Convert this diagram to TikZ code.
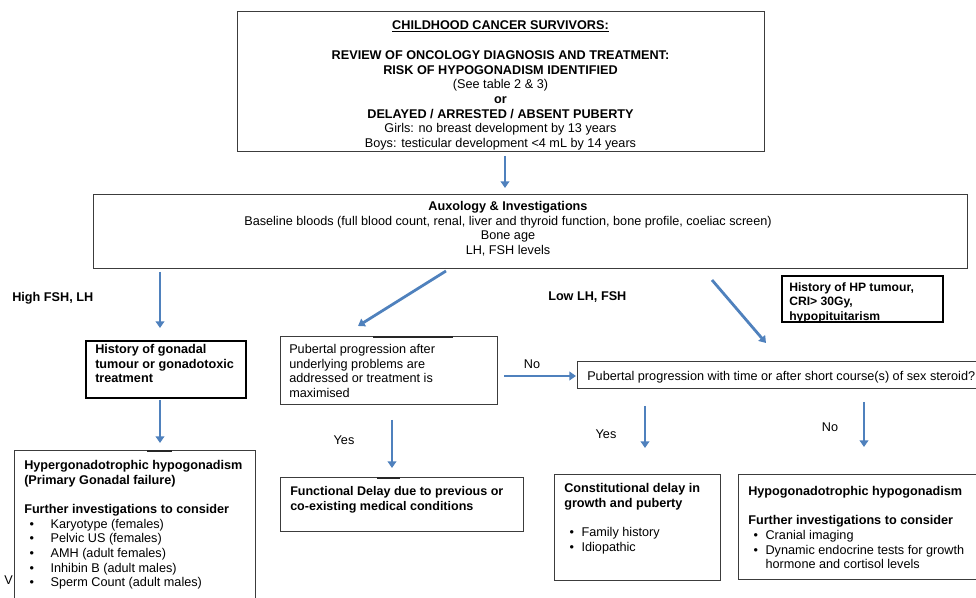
\documentclass[tikz,border=0pt]{standalone}
\usepackage{fontspec}
\setmainfont{Liberation Sans}
\usetikzlibrary{arrows.meta,calc,fit}
\definecolor{arrblue}{RGB}{79,129,189}
\definecolor{boxgray}{RGB}{60,60,60}
\begin{document}
\begin{tikzpicture}[x=0.75pt,y=-0.75pt,
  box/.style={draw=boxgray, line width=0.75pt, fill=white, inner sep=0pt},
  bbox/.style={draw=black, line width=1.1pt, fill=white, inner sep=0pt},
  txt/.style={anchor=north west, inner sep=0pt, align=left, font=\fontsize{9.5}{11}\selectfont},
  ctxt/.style={anchor=north, inner sep=0pt, align=center, font=\fontsize{9.5}{11}\selectfont},
  lbl/.style={inner sep=0pt, font=\fontsize{9.5}{11}\selectfont},
  arr/.style={draw=arrblue, line width=2.1pt, -{Triangle[width=6.5pt,length=5pt]}},
  seg/.style={draw=black!85, line width=1.4pt}
]
\useasboundingbox (0,0) rectangle (976,598);
\fill[white] (0,0) rectangle (976,598);

% stray letter behind box
\node[lbl, anchor=west] (vv) at (4,580) {V};

% boxes
\node[box, fit={(237,12) (764,152)}] (top) {};
\node[box, fit={(93,195) (967,269)}] (aux) {};
\node[bbox, fit={(782,276) (943,322)}] (hp) {};
\node[bbox, fit={(86,341) (246,398)}] (gon) {};
\node[box, fit={(280,337) (497,405)}] (pub) {};
\node[box, fit={(577,362) (990,389)}] (time) {};
\node[box, fit={(14,451) (255,620)}] (hyper) {};
\node[box, fit={(280,478) (523,532)}] (func) {};
\node[box, fit={(554,475) (720,581)}] (const) {};
\node[box, fit={(738,475) (990,580)}] (hypo) {};

% small thick segments on box tops
\draw[seg] (373,337) -- (453,337);
\draw[seg] (377,478) -- (400,478);
\draw[seg] (147,451) -- (172,451);

% texts
\node[ctxt] (topT) at (500.5,20.5) {\textbf{\underline{CHILDHOOD CANCER SURVIVORS:}}\\[11.5pt]
\textbf{REVIEW OF ONCOLOGY DIAGNOSIS AND TREATMENT:}\\
\textbf{RISK OF HYPOGONADISM IDENTIFIED}\\
(See table 2 \& 3)\\
\textbf{or}\\
\textbf{DELAYED / ARRESTED / ABSENT PUBERTY}\\
Girls: no breast development by 13 years\\
Boys: testicular development <4 mL by 14 years};

\node[ctxt] (auxT) at (508,201) {\textbf{Auxology \& Investigations}\\
Baseline bloods (full blood count, renal, liver and thyroid function, bone profile, coeliac screen)\\
Bone age\\
LH, FSH levels};

\node[txt, font=\bfseries\fontsize{9.1}{11}\selectfont] (hpT) at (789,282) {History of HP tumour,\\CRI> 30Gy,\\hypopituitarism};
\node[txt, font=\bfseries\fontsize{9.5}{11}\selectfont] (gonT) at (95,344) {History of gonadal\\tumour or gonadotoxic\\treatment};
\node[txt] (pubT) at (289,344) {Pubertal progression after\\underlying problems are\\addressed or treatment is\\maximised};
\node[txt] (timeT) at (587,371) {Pubertal progression with time or after short course(s) of sex steroid?};
\node[txt] (hyperT) at (24,460) {\textbf{Hypergonadotrophic hypogonadism}\\
\textbf{(Primary Gonadal failure)}\\[11pt]
\textbf{Further investigations to consider}\\
\hspace*{4pt}\makebox[15.75pt][l]{\textbullet}Karyotype (females)\\
\hspace*{4pt}\makebox[15.75pt][l]{\textbullet}Pelvic US (females)\\
\hspace*{4pt}\makebox[15.75pt][l]{\textbullet}AMH (adult females)\\
\hspace*{4pt}\makebox[15.75pt][l]{\textbullet}Inhibin B (adult males)\\
\hspace*{4pt}\makebox[15.75pt][l]{\textbullet}Sperm Count (adult males)};
\node[txt, font=\bfseries\fontsize{9.4}{11}\selectfont] (funcT) at (290,486) {Functional Delay due to previous or\\co-existing medical conditions};
\node[txt] (constT) at (564,483) {\textbf{Constitutional delay in}\\
\textbf{growth and puberty}\\[11pt]
\hspace*{4pt}\makebox[9pt][l]{\textbullet}Family history\\
\hspace*{4pt}\makebox[9pt][l]{\textbullet}Idiopathic};
\node[txt] (hypoT) at (748,486) {\textbf{Hypogonadotrophic hypogonadism}\\[11pt]
\textbf{Further investigations to consider}\\
\hspace*{4pt}\makebox[9pt][l]{\textbullet}Cranial imaging\\
\hspace*{4pt}\makebox[9pt][l]{\textbullet}Dynamic endocrine tests for growth\\
\hspace*{13pt}hormone and cortisol levels};

% labels
\node[lbl, anchor=west, font=\bfseries\fontsize{9.5}{11}\selectfont] (high) at (12,298) {High FSH, LH};
\node[lbl, anchor=west, font=\bfseries\fontsize{9.5}{11}\selectfont] (low) at (548,297) {Low LH, FSH};
\node[lbl] (no1) at (532,364) {No};
\node[lbl] (yes1) at (344,440) {Yes};
\node[lbl] (yes2) at (606,434) {Yes};
\node[lbl] (no2) at (830,427) {No};

% arrow end points
\coordinate (a1s) at (505,156); \coordinate (a1e) at (505,188);
\coordinate (a2s) at (160,272); \coordinate (a2e) at (160,328);
\coordinate (a3s) at (446,271); \coordinate (a3e) at (358,326);
\coordinate (a4s) at (712,280); \coordinate (a4e) at (766,343);
\coordinate (a5s) at (160,400); \coordinate (a5e) at (160,443);
\coordinate (a6s) at (504,376); \coordinate (a6e) at (576,376);
\coordinate (a7s) at (392,420); \coordinate (a7e) at (392,468);
\coordinate (a8s) at (645,406); \coordinate (a8e) at (645,448);
\coordinate (a9s) at (864,402); \coordinate (a9e) at (864,447);

\draw[arr] (a1s) -- (a1e);
\draw[arr] (a2s) -- (a2e);
\draw[arr] (a3s) -- (a3e);
\draw[arr] (a4s) -- (a4e);
\draw[arr] (a5s) -- (a5e);
\draw[arr] (a6s) -- (a6e);
\draw[arr] (a7s) -- (a7e);
\draw[arr] (a8s) -- (a8e);
\draw[arr] (a9s) -- (a9e);
\end{tikzpicture}
\end{document}
